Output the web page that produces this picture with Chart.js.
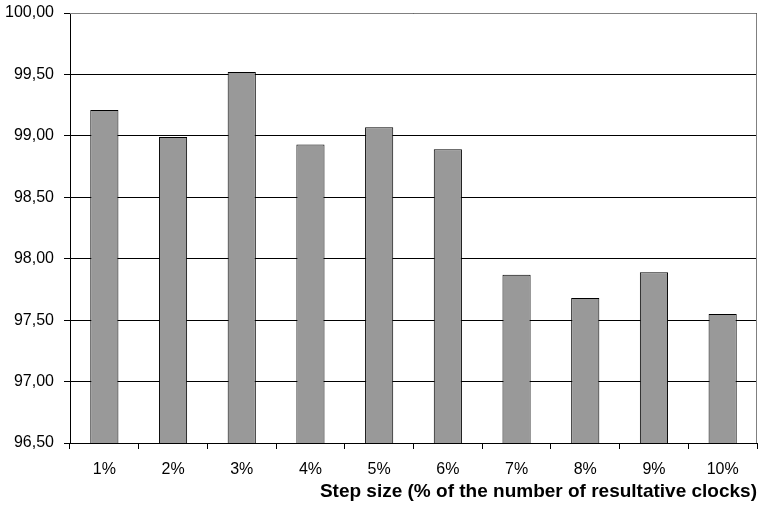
<!DOCTYPE html>
<html>
<head>
<meta charset="utf-8">
<script src="https://cdn.jsdelivr.net/npm/chart.js@4"></script>
<style>
  html, body { margin: 0; padding: 0; background: #fff; }
  #chart { display: block; }
</style>
</head>
<body>
<canvas id="chart" width="767" height="509"></canvas>
<script>
// Dữ liệu
const categories = ['1%', '2%', '3%', '4%', '5%', '6%', '7%', '8%', '9%', '10%'];
const values = [99.21, 98.99, 99.52, 98.93, 99.07, 98.89, 97.87, 97.68, 97.89, 97.55];
const yMin = 96.5;
const yMax = 100;
const yStep = 0.5;
const xTitle = 'Step size (% of the number of resultative clocks)';

// Khung viền vùng vẽ
const frame = {
  id: 'frame',
  afterDraw(chart) {
    const { ctx, chartArea: a } = chart;
    ctx.save();
    ctx.strokeStyle = '#808080';
    ctx.lineWidth = 1;
    ctx.beginPath();
    ctx.moveTo(a.left, a.top + 0.5);
    ctx.lineTo(a.right - 0.5, a.top + 0.5);
    ctx.lineTo(a.right - 0.5, a.bottom);
    ctx.stroke();
    ctx.restore();
  }
};

const fam = '"Liberation Sans", Arial, sans-serif';

new Chart(document.getElementById('chart').getContext('2d'), {
  type: 'bar',
  data: {
    labels: categories,
    datasets: [{
      data: values,
      backgroundColor: '#999999',
      borderColor: '#000000',
      borderWidth: 1,
      borderSkipped: false,
      barPercentage: 0.41,
      categoryPercentage: 1
    }]
  },
  options: {
    responsive: false,
    animation: false,
    layout: { padding: { top: 13, right: 10, left: 0, bottom: 0 } },
    plugins: {
      legend: { display: false },
      tooltip: { enabled: false }
    },
    scales: {
      x: {
        afterFit: s => { s.height = 66; s.paddingLeft = 0; s.paddingRight = 0; },
        grid: {
          offset: true,
          drawOnChartArea: false,
          color: '#000',
          tickLength: 6
        },
        border: { color: '#000', width: 1 },
        ticks: { color: '#000', font: { family: fam, size: 16 }, padding: 11, maxRotation: 0 },
        title: {
          display: true,
          text: xTitle,
          align: 'end',
          color: '#000',
          font: { family: fam, size: 19, weight: 'bold' },
          padding: { top: 4, bottom: 6 }
        }
      },
      y: {
        min: yMin,
        max: yMax,
        afterFit: s => { s.width = 70; s.paddingTop = 0; s.paddingBottom = 0; },
        grid: { color: '#000', tickLength: 6 },
        border: { color: '#000', width: 1 },
        ticks: {
          stepSize: yStep,
          color: '#000',
          font: { family: fam, size: 16 },
          padding: 10,
          callback: v => v.toFixed(2).replace('.', ',')
        }
      }
    }
  },
  plugins: [frame]
});
</script>
</body>
</html>
